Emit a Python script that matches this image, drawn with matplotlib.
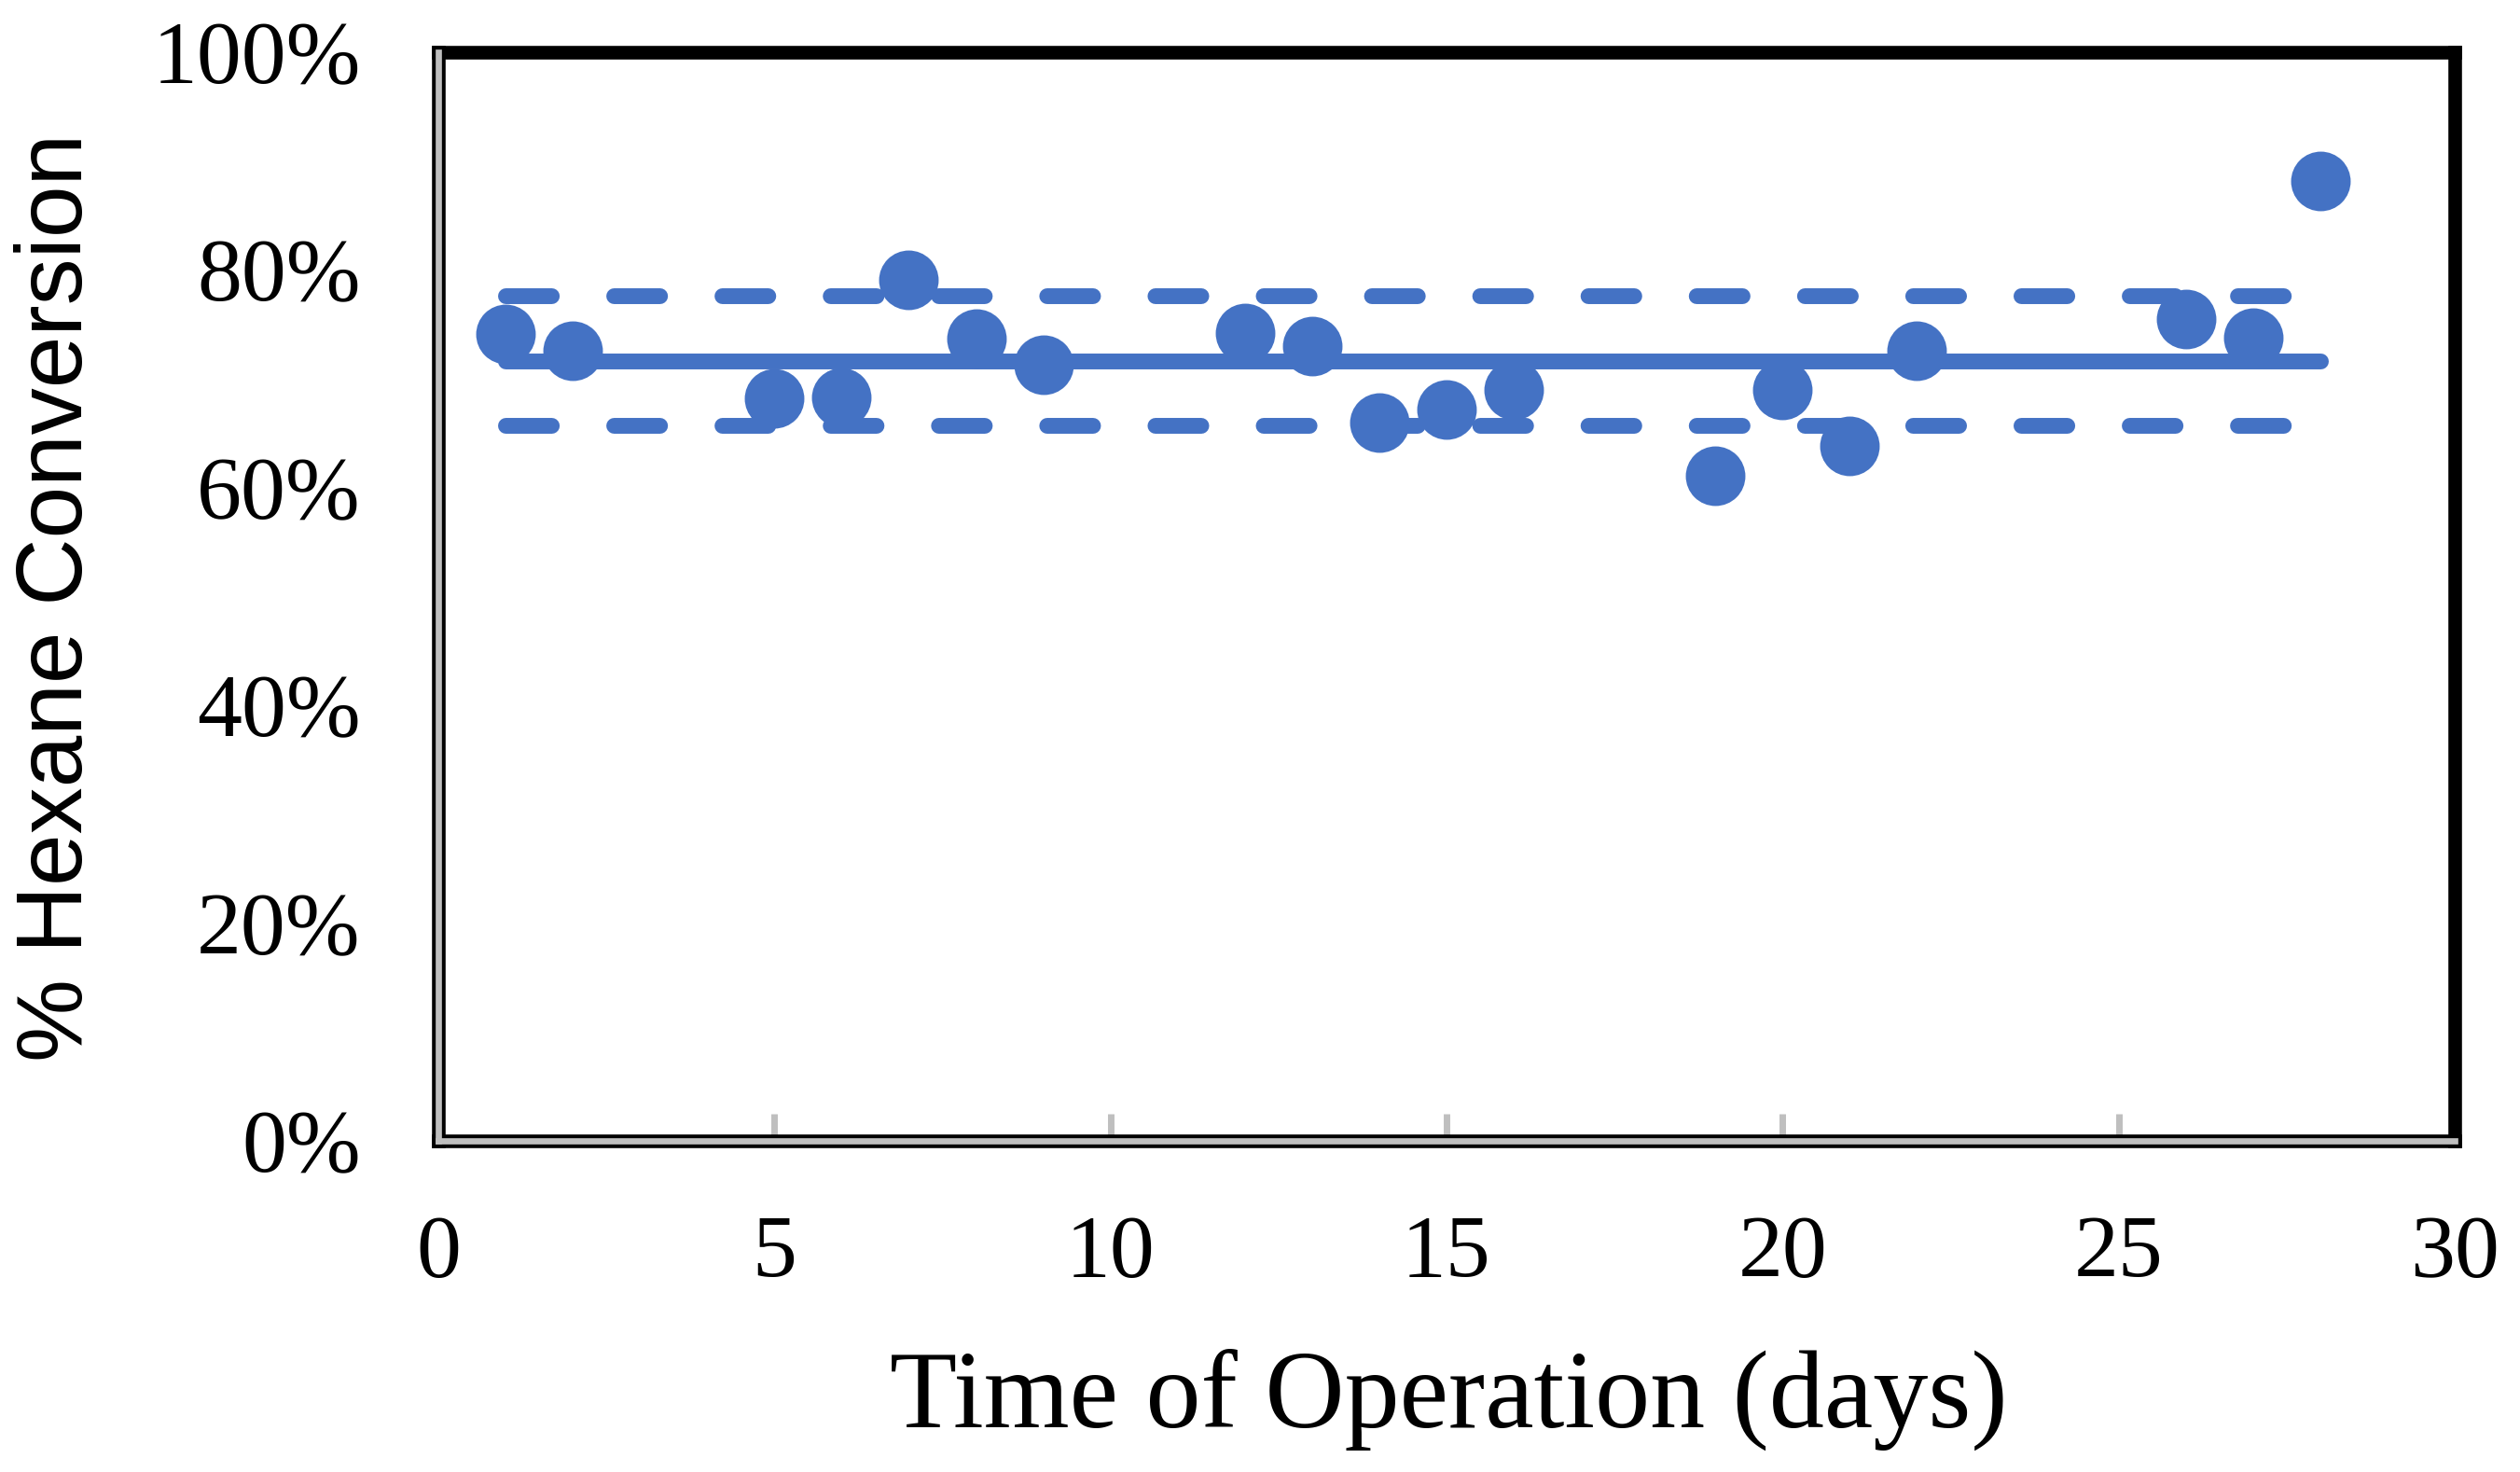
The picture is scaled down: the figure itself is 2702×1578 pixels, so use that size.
import matplotlib
matplotlib.use('Agg')
import matplotlib.pyplot as plt
from matplotlib.ticker import PercentFormatter

# ---- data ----
days = [1, 2, 5, 6, 7, 8, 9, 12, 13, 14, 15, 16, 19, 20, 21, 22, 26, 27, 28]
conversion = [0.741, 0.726, 0.682, 0.683, 0.791, 0.737, 0.713, 0.742, 0.730,
              0.660, 0.672, 0.690, 0.611, 0.690, 0.638, 0.726, 0.755, 0.738, 0.882]
line_days = [1, 28]      # span of mean / band lines
mean_conv = 0.716
upper_conv = 0.776
lower_conv = 0.657
x_ticks = [0, 5, 10, 15, 20, 25, 30]
y_ticks = [0, 0.2, 0.4, 0.6, 0.8, 1.0]

blue = '#4472C4'
grey = '#BFBFBF'

plt.rcParams['font.family'] = ['Liberation Serif', 'DejaVu Serif']

W, H = 2702, 1578
fig = plt.figure(figsize=(W / 100, H / 100), dpi=100)
ax = fig.add_axes([470 / W, 1 - 1223 / H, (2632 - 470) / W, (1223 - 56) / H])

# mean line and +/- band
ax.plot(line_days, [mean_conv] * 2, color=blue, lw=12.2, solid_capstyle='round')
ax.plot(line_days, [upper_conv] * 2, color=blue, lw=12.2,
        dashes=(2.9, 3.95), dash_capstyle='round')
ax.plot(line_days, [lower_conv] * 2, color=blue, lw=12.2,
        dashes=(2.9, 3.95), dash_capstyle='round')

# daily points
ax.plot(days, conversion, 'o', ms=46, color=blue, mec='none', zorder=3)

ax.set_xlim(0, 30)
ax.set_ylim(0, 1)
ax.set_xticks(x_ticks)
ax.set_yticks(y_ticks)
ax.yaxis.set_major_formatter(PercentFormatter(xmax=1, decimals=0))

for s in ax.spines.values():
    s.set_color('black')
    s.set_linewidth(10.5)

# grey axis lines on top of the black frame
ax.axhline(0, color=grey, lw=4.8, clip_on=False, zorder=3)
ax.axvline(0, color=grey, lw=4.8, clip_on=False, zorder=3)

ax.tick_params(axis='x', direction='in', length=21, width=5, color=grey,
               pad=57, labelsize=69)
ax.tick_params(axis='y', length=0, pad=60, labelsize=69)

fig.text(62 / W, 1 - 640 / H, '% Hexane Conversion', rotation=90,
         ha='center', va='center', fontsize=72, family=['Liberation Sans', 'DejaVu Sans'])
fig.text(1553 / W, 1 - 1530 / H, 'Time of Operation (days)',
         ha='center', va='baseline', fontsize=85)

fig.savefig('out.png', dpi=100)
